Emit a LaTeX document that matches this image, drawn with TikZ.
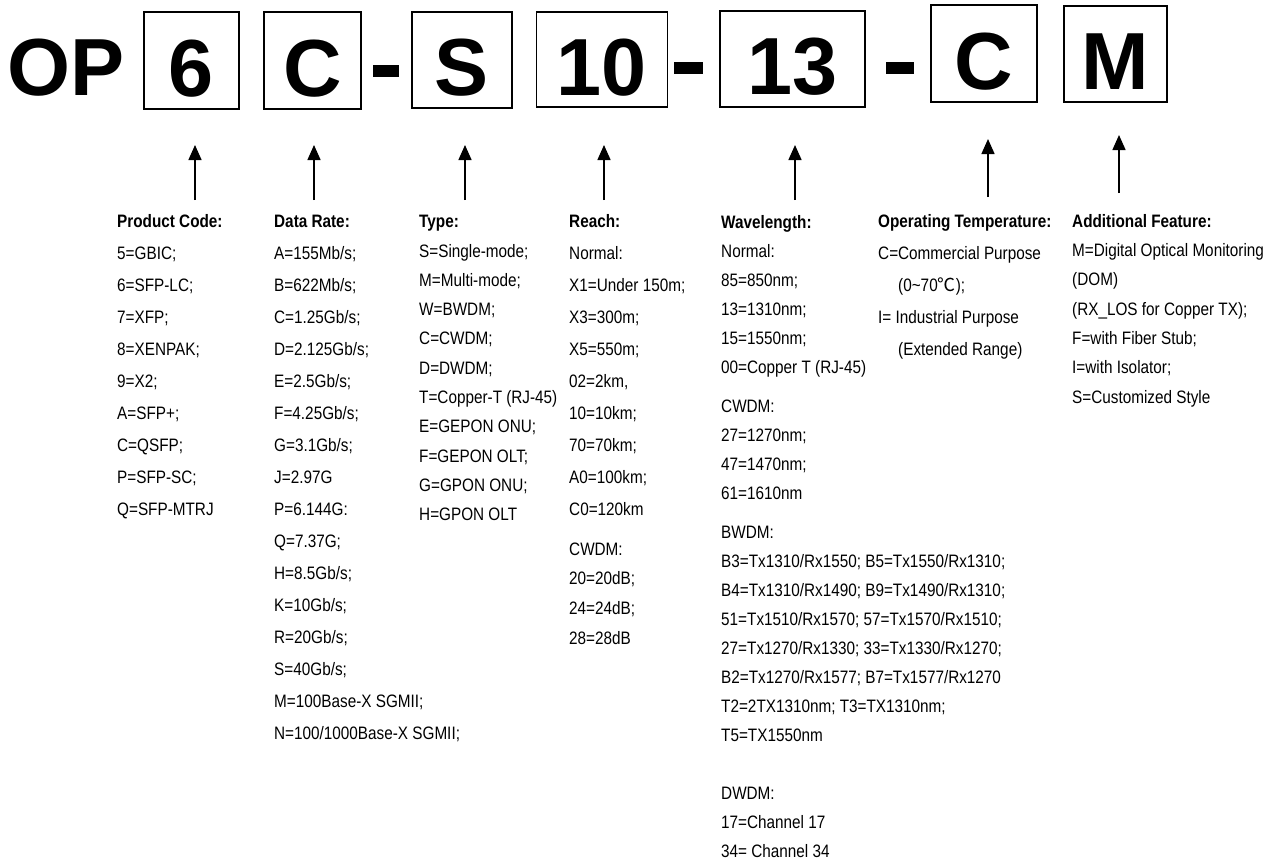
\documentclass[tikz,border=0pt]{standalone}
\usepackage{fontspec}
\setmainfont{Liberation Sans}[FakeStretch=0.85]
\newfontfamily\titlefont{Liberation Sans}
\newfontfamily\cjkfont{Noto Sans CJK SC}
\usetikzlibrary{arrows.meta}

\begin{document}
\begin{tikzpicture}[x=1pt,y=-1pt,
  bigtext/.style={inner sep=0pt,font=\titlefont\bfseries\fontsize{81}{81}\selectfont},
  codebox/.style={bigtext,draw=black,line width=1.4pt,text height=71pt,text depth=0pt},
  dashbar/.style={fill=black,inner sep=0pt},
  uparrow/.style={line width=1.5pt,-{Triangle[length=15pt,width=13pt]}},
  col32/.style={anchor=north west,inner sep=0pt,align=left,font=\fontsize{18}{32}\selectfont},
  col29/.style={anchor=north west,inner sep=0pt,align=left,font=\fontsize{18}{29.3}\selectfont}]
\useasboundingbox (0,0) rectangle (1269,863);
\node[bigtext,anchor=base west] at (7, 95) (op) {OP};
\node[codebox,minimum width=95pt,minimum height=97pt] at (191.5, 60.5) (b6) {6};
\node[codebox,minimum width=97pt,minimum height=97pt] at (312.5, 60.5) (bC) {C};
\node[dashbar,minimum width=26pt,minimum height=12pt] at (386, 71) (d1) {};
\node[codebox,minimum width=100pt,minimum height=96pt] at (462, 60) (bS) {S};
\node[codebox,minimum width=131pt,minimum height=95pt] at (602, 59.5) (b10) {10};
\node[dashbar,minimum width=29pt,minimum height=12pt] at (688.5, 68) (d2) {};
\node[codebox,minimum width=145pt,minimum height=96pt] at (792.5, 59) (b13) {13};
\node[dashbar,minimum width=28pt,minimum height=12pt] at (900, 68) (d3) {};
\node[codebox,minimum width=106pt,minimum height=97pt] at (984, 53.5) (bC2) {C};
\node[codebox,minimum width=103pt,minimum height=96pt] at (1115.5, 54) (bM) {M};

\coordinate (a1s) at (195, 200); \coordinate (a1t) at (195, 145);
\coordinate (a2s) at (314, 200); \coordinate (a2t) at (314, 145);
\coordinate (a3s) at (465, 200); \coordinate (a3t) at (465, 145);
\coordinate (a4s) at (604, 200); \coordinate (a4t) at (604, 145);
\coordinate (a5s) at (795, 200); \coordinate (a5t) at (795, 145);
\coordinate (a6s) at (988, 197); \coordinate (a6t) at (988, 139);
\coordinate (a7s) at (1119, 193); \coordinate (a7t) at (1119, 135);
\draw[uparrow] (a1s) -- (a1t);
\draw[uparrow] (a2s) -- (a2t);
\draw[uparrow] (a3s) -- (a3t);
\draw[uparrow] (a4s) -- (a4t);
\draw[uparrow] (a5s) -- (a5t);
\draw[uparrow] (a6s) -- (a6t);
\draw[uparrow] (a7s) -- (a7t);

\node[col32] at (117, 212.5) (pcode) {\rule{0pt}{15pt}\textbf{Product Code:}\\
  5=GBIC;\\ 6=SFP-LC;\\ 7=XFP;\\ 8=XENPAK;\\ 9=X2;\\ A=SFP+;\\ C=QSFP;\\ P=SFP-SC;\\ Q=SFP-MTRJ};
\node[col32] at (274, 212.5) (drate) {\rule{0pt}{15pt}\textbf{Data Rate:}\\
  A=155Mb/s;\\ B=622Mb/s;\\ C=1.25Gb/s;\\ D=2.125Gb/s;\\ E=2.5Gb/s;\\ F=4.25Gb/s;\\ G=3.1Gb/s;\\ J=2.97G\\
  P=6.144G:\\ Q=7.37G;\\ H=8.5Gb/s;\\ K=10Gb/s;\\ R=20Gb/s;\\ S=40Gb/s;\\ M=100Base-X SGMII;\\ N=100/1000Base-X SGMII;};
\node[col29] at (419, 212.5) (type) {\rule{0pt}{15pt}\textbf{Type:}\\
  S=Single-mode;\\ M=Multi-mode;\\ W=BWDM;\\ C=CWDM;\\ D=DWDM;\\ T=Copper-T (RJ-45)\\ E=GEPON ONU;\\ F=GEPON OLT;\\ G=GPON ONU;\\ H=GPON OLT};
\node[col32] at (569, 212.5) (reach) {\rule{0pt}{15pt}\textbf{Reach:}\\
  Normal:\\ X1=Under 150m;\\ X3=300m;\\ X5=550m;\\ 02=2km,\\ 10=10km;\\ 70=70km;\\ A0=100km;\\ C0=120km\\[8pt]
  CWDM:\\[-3pt] 20=20dB;\\[-2pt] 24=24dB;\\[-2pt] 28=28dB};
\node[col29,font=\fontsize{18}{29}\selectfont] at (721, 213.5) (wave) {\rule{0pt}{15pt}\textbf{Wavelength:}\\
  Normal:\\ 85=850nm;\\ 13=1310nm;\\ 15=1550nm;\\ 00=Copper T (RJ-45)\\[10pt]
  CWDM:\\ 27=1270nm;\\ 47=1470nm;\\ 61=1610nm\\[10pt]
  BWDM:\\ B3=Tx1310/Rx1550; B5=Tx1550/Rx1310;\\ B4=Tx1310/Rx1490; B9=Tx1490/Rx1310;\\
  51=Tx1510/Rx1570; 57=Tx1570/Rx1510;\\ 27=Tx1270/Rx1330; 33=Tx1330/Rx1270;\\
  B2=Tx1270/Rx1577; B7=Tx1577/Rx1270\\ T2=2TX1310nm; T3=TX1310nm;\\ T5=TX1550nm\\[29pt]
  DWDM:\\ 17=Channel 17\\ 34= Channel 34};
\node[col32] at (878, 212.5) (temp) {\rule{0pt}{15pt}\textbf{Operating Temperature:}\\
  C=Commercial Purpose\\ \hspace*{20pt}(0\textasciitilde70{\cjkfont ℃});\\ I= Industrial Purpose\\ \hspace*{20pt}(Extended Range)};
\node[col29] at (1072, 212) (feat) {\rule{0pt}{15pt}\textbf{Additional Feature:}\\
  M=Digital Optical Monitoring\\ (DOM)\\ (RX\_LOS for Copper TX);\\ F=with Fiber Stub;\\ I=with Isolator;\\ S=Customized Style};
\end{tikzpicture}
\end{document}
